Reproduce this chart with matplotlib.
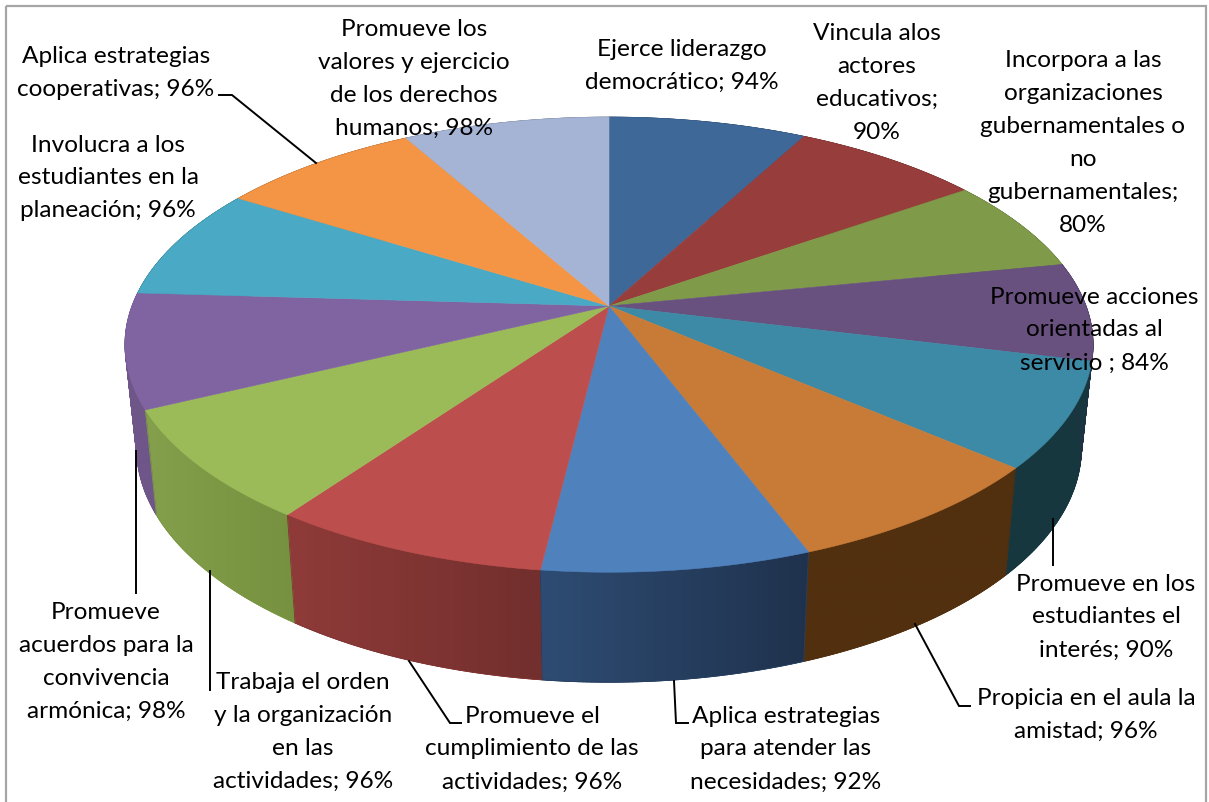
import numpy as np
import matplotlib
matplotlib.use("Agg")
import matplotlib.pyplot as plt
from matplotlib.collections import PolyCollection
from matplotlib.colors import to_rgb
from matplotlib.patches import Polygon, Rectangle

labels = [
    "Ejerce liderazgo\ndemocrático; 94%",
    "Vincula alos\nactores\neducativos;\n90%",
    "Incorpora a las\norganizaciones\ngubernamentales o\nno\ngubernamentales;\n80%",
    "Promueve acciones\norientadas al\nservicio ; 84%",
    "Promueve en los\nestudiantes el\ninterés; 90%",
    "Propicia en el aula la\namistad; 96%",
    "Aplica estrategias\npara atender las\nnecesidades; 92%",
    "Promueve el\ncumplimiento de las\nactividades; 96%",
    "Trabaja el orden\ny la organización\nen las\nactividades; 96%",
    "Promueve\nacuerdos para la\nconvivencia\narmónica; 98%",
    "Involucra a los\nestudiantes en la\nplaneación; 96%",
    "Aplica estrategias\ncooperativas; 96%",
    "Promueve los\nvalores y ejercicio\nde los derechos\nhumanos; 98%",
]
values = [94, 90, 80, 84, 90, 96, 92, 96, 96, 98, 96, 96, 98]
top_colors = ["#3e6898", "#973e3c", "#7f9a48", "#68507f", "#3c8aa5", "#c87b37", "#4f81bd",
              "#bc4f4d", "#9bbb59", "#8064a2", "#4aa9c4", "#f49545", "#a5b4d4"]
wall_right = ["#2a4566", "#662a28", "#556730", "#33284a", "#17373f", "#52300f", "#1f324d",
              "#722f2d", "#76913f", "#6f5689", "#2e6a7a", "#a0602c", "#6f7a90"]
wall_left = ["#2a4566", "#662a28", "#556730", "#33284a", "#17373f", "#52300f", "#2e4c73",
             "#8f3b39", "#84a04c", "#6f5689", "#2e6a7a", "#a0602c", "#6f7a90"]
label_xy = [(682, 66), (877, 83), (1083, 143), (1094, 330), (1106, 617), (1086, 715), (786, 749),
            (532, 749), (303, 732), (106, 662), (108, 178), (116, 73), (414, 79)]
leaders = [
    [(219, 96), (232, 96), (316, 164)],
    [(1053, 520), (1053, 566)],
    [(915, 625), (959, 707), (970, 707)],
    [(674, 682), (676, 724), (688, 724)],
    [(409, 662), (450, 724), (461, 724)],
    [(210, 572), (210, 691)],
    [(136, 452), (136, 594)],
]

CX, CY, A, B, K = 609, 307, 477, 221, 0.17


def top_pt(t):
    u, v = np.sin(t), -np.cos(t)
    d = 1 - K * v
    return CX + A * u / d, CY + B * v / d


def bottom_pt(t):
    x, y = top_pt(t)
    return CX + 0.976 * (x - CX), CY + 102 + 1.03 * (y - CY)


plt.rcParams["font.family"] = ["Lato", "DejaVu Sans"]
fig = plt.figure(figsize=(12.09, 8.03), dpi=100)
ax = fig.add_axes([0, 0, 1, 1])
ax.axis("off")

ax.add_patch(Rectangle((6, 7), 1200, 820, fill=False, ec="#a6a6a6", lw=1.6, zorder=1))

edges = np.cumsum([0] + values) / sum(values) * 2 * np.pi
mids = (edges[:-1] + edges[1:]) / 2

for i in np.argsort(-np.cos(mids)):
    ts = np.linspace(edges[i], edges[i + 1], 60)
    tx, ty = top_pt(ts)
    bx, by = bottom_pt(ts)
    c0, c1 = np.array(to_rgb(wall_left[i])), np.array(to_rgb(wall_right[i]))
    # flat swept underlay so the silhouette between the two rims is filled
    quads = [[(tx[j], ty[j]), (tx[j + 1], ty[j + 1]), (bx[j + 1], by[j + 1]), (bx[j], by[j])]
             for j in range(len(ts) - 1)]
    ax.add_collection(PolyCollection(quads, facecolors=[(c0 + c1) / 2], edgecolors="face",
                                     linewidths=0.5, zorder=1.9 + (-np.cos(mids[i]) + 1) * 0.01))
    pts = np.column_stack([np.r_[tx, bx[::-1]], np.r_[ty, by[::-1]]])
    x0, x1 = pts[:, 0].min(), pts[:, 0].max()
    y0, y1 = pts[:, 1].min(), pts[:, 1].max()
    f = np.linspace(0, 1, 256)[None, :, None]
    grad = c0[None, None, :] + (c1 - c0)[None, None, :] * f
    clip = Polygon(pts, closed=True, fc="none", ec=((c0 + c1) / 2), lw=0.6, zorder=2.1)
    ax.add_patch(clip)
    im = ax.imshow(grad, extent=(x0, x1, y1, y0), aspect="auto", interpolation="bilinear",
                   zorder=2.0 + (-np.cos(mids[i]) + 1) * 0.01)
    im.set_clip_path(clip)

for i in range(len(values)):
    ts = np.linspace(edges[i], edges[i + 1], 60)
    xs, ys = top_pt(ts)
    pts = np.column_stack([np.r_[CX, xs], np.r_[CY, ys]])
    ax.add_patch(Polygon(pts, closed=True, fc=top_colors[i], ec=top_colors[i], lw=0.4, zorder=3))

for path in leaders:
    xs, ys = zip(*path)
    ax.plot(xs, ys, color="black", lw=1.4, zorder=4, solid_joinstyle="miter")

for (x, y), s in zip(label_xy, labels):
    ax.text(x, y, s, ha="center", va="center", fontsize=17.6, color="black",
            linespacing=1.7, zorder=5)

ax.set_xlim(0, 1209)
ax.set_ylim(803, 0)
fig.savefig("out.png", dpi=100, facecolor="white")
